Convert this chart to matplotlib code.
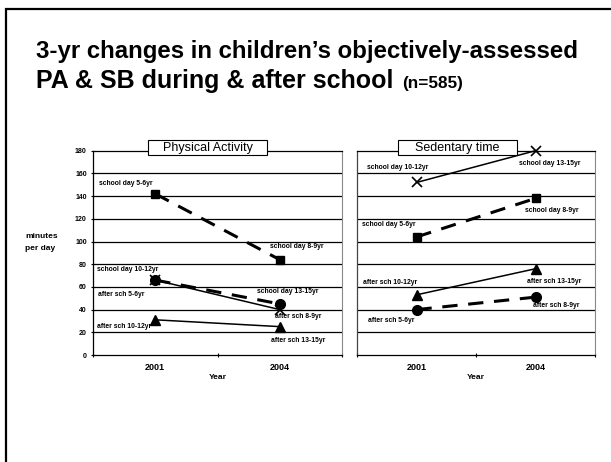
import numpy as np
import matplotlib
matplotlib.use('Agg')
import matplotlib.pyplot as plt
from matplotlib.patches import Rectangle

plt.rcParams['font.family'] = ['Liberation Sans', 'DejaVu Sans']

# data (minutes per day)
years = ['2001', '2004']
pa_values = {
    'sd_young': [142, 84],    # school day 5-6yr -> 8-9yr
    'as_young': [66, 45],     # after sch 5-6yr -> 8-9yr
    'sd_old': [66, 40],       # school day 10-12yr -> 13-15yr
    'as_old': [31, 25],       # after sch 10-12yr -> 13-15yr
}
sb_values = {
    'sd_young': [104, 138],
    'as_young': [40, 51],
    'sd_old': [152, 180],
    'as_old': [53, 76],
}

# series styles
styles = {
    'sd_young': dict(ls=(0, (5, 3.5)), lw=2.2, marker='s', ms=6),
    'as_young': dict(ls=(0, (5, 3.5)), lw=2.2, marker='o', ms=7),
    'sd_old': dict(ls='-', lw=1.1, marker='x', ms=7, mew=1.2),
    'as_old': dict(ls='-', lw=1.1, marker='^', ms=6.5),
}
draw_order = ['sd_old', 'as_old', 'sd_young', 'as_young']

# label texts and where they sit (category units, minutes)
pa_labels = [
    ('school day 5-6yr', 0.05, 151),
    ('school day 8-9yr', 1.42, 96),
    ('school day 10-12yr', 0.03, 75.5),
    ('after sch 5-6yr', 0.04, 53.5),
    ('school day 13-15yr', 1.32, 56),
    ('after sch 8-9yr', 1.46, 34),
    ('after sch 10-12yr', 0.03, 25.5),
    ('after sch 13-15yr', 1.43, 13),
]
sb_labels = [
    ('school day 10-12yr', 0.08, 165.5),
    ('school day 13-15yr', 1.36, 169),
    ('school day 8-9yr', 1.41, 127),
    ('school day 5-6yr', 0.045, 115),
    ('after sch 10-12yr', 0.05, 63.5),
    ('after sch 5-6yr', 0.095, 30),
    ('after sch 13-15yr', 1.43, 64.5),
    ('after sch 8-9yr', 1.48, 43.5),
]

W, H = 611, 462
fig = plt.figure(figsize=(W / 100, H / 100), dpi=100)

# slide frame
fig.add_artist(Rectangle((6 / W, -0.1), 1.2, 1 - 9 / H + 0.1,
                         transform=fig.transFigure, fill=False,
                         edgecolor='black', lw=1.6))

fig.text(36 / W, 1 - 58 / H, '3-yr changes in children\u2019s objectively-assessed',
         fontsize=17.3, fontweight='bold', ha='left', va='baseline')
fig.text(36 / W, 1 - 88 / H, 'PA & SB during & after school',
         fontsize=18, fontweight='bold', ha='left', va='baseline')
fig.text(402 / W, 1 - 88 / H, '(n=585)', fontsize=12.3, fontweight='bold',
         ha='left', va='baseline')

ax1 = fig.add_axes([93 / W, 1 - 355 / H, 249 / W, 204.3 / H])
ax2 = fig.add_axes([357 / W, 1 - 355 / H, 238 / W, 204.3 / H])

x = np.array([0.5, 1.5])
for ax, vals, labels, title, box in [
        (ax1, pa_values, pa_labels, 'Physical Activity', (148, 267)),
        (ax2, sb_values, sb_labels, 'Sedentary time', (398, 517))]:
    ax.set_xlim(0, 2)
    ax.set_ylim(0, 180)
    for y in range(20, 180, 20):
        ax.axhline(y, color='black', lw=0.9, zorder=1)
    for key in draw_order:
        st = styles[key]
        ax.plot(x, vals[key], color='black', zorder=3, clip_on=False,
                dash_capstyle='butt', **st)
    for txt, tx, ty in labels:
        ax.text(tx, ty, txt, fontsize=4.9, fontweight='bold', ha='left',
                va='center', zorder=4)
    ax.set_xticks([0, 1, 2])
    ax.set_xticklabels([])
    ax.set_xticks(x, minor=True)
    ax.set_xticklabels(years, minor=True, fontsize=6.5, fontweight='bold')
    ax.tick_params(axis='x', which='minor', length=0, pad=6)
    ax.tick_params(axis='x', which='major', length=3, direction='inout', width=0.8)
    ax.spines['top'].set_color('black')
    ax.spines['top'].set_linewidth(0.9)
    ax.spines['right'].set_color('#888888')
    ax.spines['bottom'].set_linewidth(0.9)
    ax.spines['left'].set_linewidth(0.9)
    ax.set_xlabel('Year', fontsize=6, fontweight='bold', labelpad=1)
    # panel title box
    bx0, bx1 = box
    fig.add_artist(Rectangle((bx0 / W, 1 - 155 / H), (bx1 - bx0) / W, 15 / H,
                             transform=fig.transFigure, facecolor='white',
                             edgecolor='black', lw=0.8, zorder=5))
    fig.text((bx0 + bx1) / 2 / W, 1 - 147.5 / H, title, fontsize=9,
             ha='center', va='center', zorder=6)

ax1.set_yticks(range(0, 181, 20))
ax1.tick_params(axis='y', labelsize=5, length=3, direction='inout', width=0.8, pad=3)
for lbl in ax1.get_yticklabels():
    lbl.set_fontweight('bold')
ax2.set_yticks([])
ax2.spines['left'].set_color('#444444')

fig.text(25 / W, 1 - 237 / H, 'minutes', fontsize=6, fontweight='bold',
         ha='left', va='center')
fig.text(25 / W, 1 - 249 / H, 'per day', fontsize=6, fontweight='bold',
         ha='left', va='center')

fig.savefig('out.png', dpi=100)
